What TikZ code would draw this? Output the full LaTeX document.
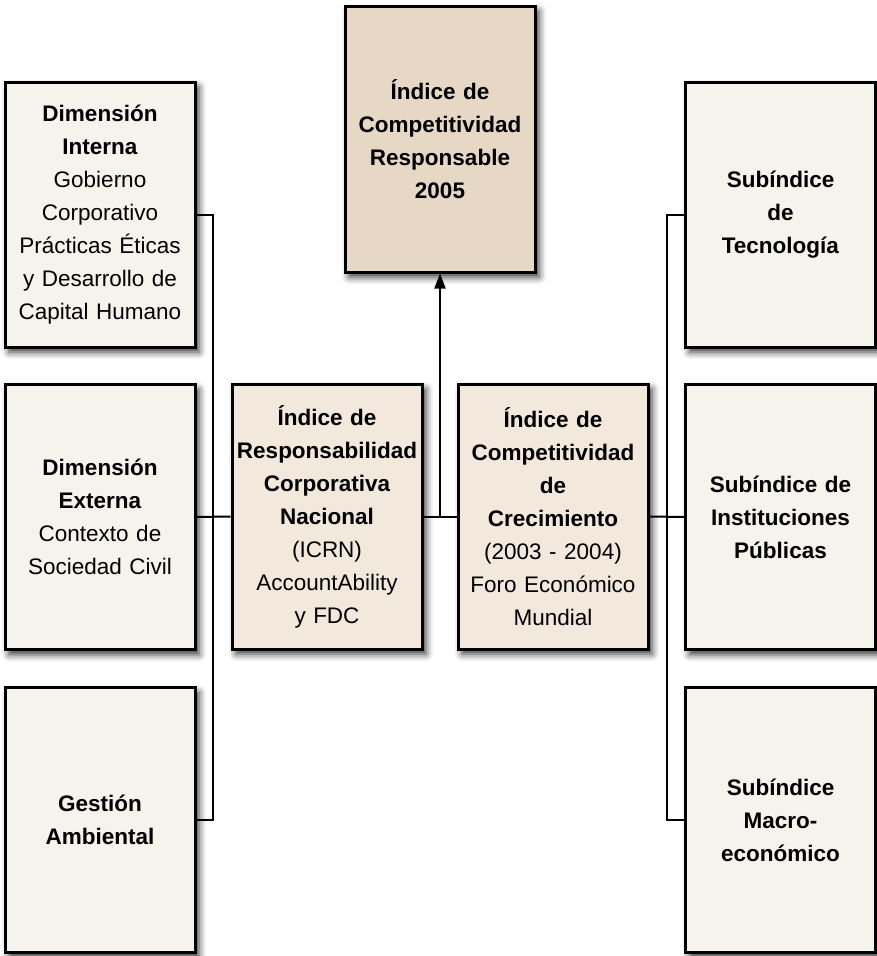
\documentclass[tikz,border=0pt]{standalone}
\usepackage{fontspec}
\setmainfont{Liberation Sans}
\usetikzlibrary{arrows.meta,shadows.blur}

\definecolor{paleFill}{RGB}{246,243,237}
\definecolor{midFill}{RGB}{242,233,220}
\definecolor{topFill}{RGB}{230,216,196}

\tikzset{
  card/.style={draw=black, line width=3pt, fill=paleFill,
    minimum width=190pt, minimum height=265pt, inner sep=0pt,
    align=center, text width=186pt,
    font=\fontsize{22.5}{33}\selectfont,
    blur shadow={shadow xshift=4pt, shadow yshift=-5pt,
      shadow blur radius=7pt, shadow opacity=80}},
  midcard/.style={card, fill=midFill},
  topcard/.style={card, fill=topFill, minimum height=266pt},
  link/.style={draw=black, line width=2pt},
}

\begin{document}
\begin{tikzpicture}[x=1pt, y=-1pt]
\useasboundingbox (0,0) rectangle (877,956);

% result index
\node[topcard] (top) at (440,139) {\textbf{Índice de}\\\textbf{Competitividad}\\\textbf{Responsable}\\\textbf{2005}};

% left column: dimensions
\node[card] (dimInt) at (100,214.5) {\textbf{Dimensión}\\\textbf{Interna}\\Gobierno\\Corporativo\\Prácticas Éticas\\y Desarrollo de\\Capital Humano};
\node[card] (dimExt) at (100,517) {\textbf{Dimensión}\\\textbf{Externa}\\Contexto de\\Sociedad Civil};
\node[card] (gest) at (100,820) {\textbf{Gestión}\\\textbf{Ambiental}};

% source indices
\node[midcard] (icrn) at (327,516.5) {\textbf{Índice de}\\\textbf{Responsabilidad}\\\textbf{Corporativa}\\\textbf{Nacional}\\(ICRN)\\AccountAbility\\y FDC};
\node[midcard] (icc) at (553,516.5) {\textbf{Índice de}\\\textbf{Competitividad}\\\textbf{de}\\\textbf{Crecimiento}\\(2003 - 2004)\\Foro Económico\\Mundial};

% right column: sub-indices
\node[card] (tec) at (780.5,214.5) {\textbf{Subíndice}\\\textbf{de}\\\textbf{Tecnología}};
\node[card] (inst) at (780.5,517) {\textbf{Subíndice de}\\\textbf{Instituciones}\\\textbf{Públicas}};
\node[card] (macro) at (780.5,820) {\textbf{Subíndice}\\\textbf{Macro-}\\\textbf{económico}};

% left bracket and feed into ICRN
\coordinate (lbus) at (213,0);
\draw[link] (dimInt.east) -| (lbus |- gest.east) -- (gest.east);
\draw[link] (dimExt.east) -- (icrn.west);

% right bracket and feed into ICC
\coordinate (rbus) at (667,0);
\draw[link] (tec.west) -| (rbus |- macro.west) -- (macro.west);
\draw[link] (icc.east) -- (inst.west);

% join of the two indices and arrow up
\draw[link] (icrn.east) -- (icc.west);
\coordinate (join) at (icrn.east -| top.south);
\draw[link, -{Triangle[length=15pt, width=11pt]}] (join) -- (top.south);
\end{tikzpicture}
\end{document}
